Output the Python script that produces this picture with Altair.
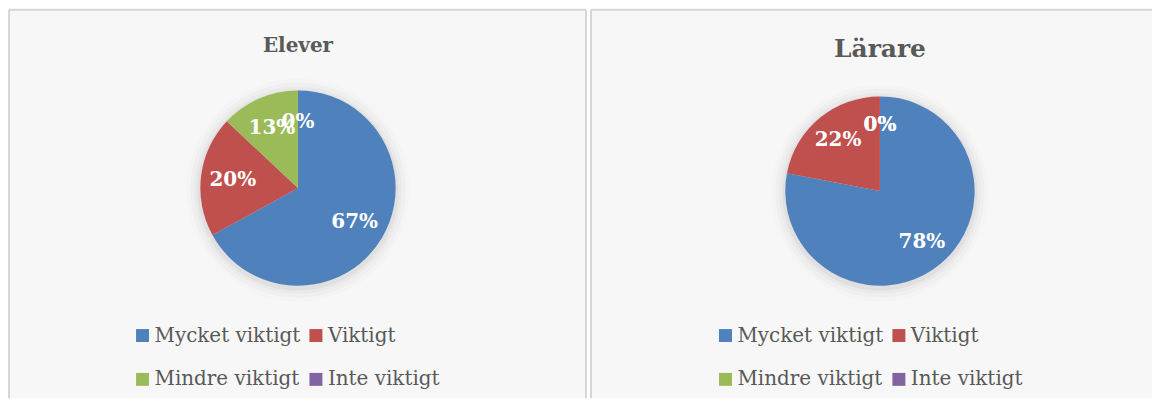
import altair as alt
import pandas as pd

categories = ["Mycket viktigt", "Viktigt", "Mindre viktigt", "Inte viktigt"]
colors = ["#4F81BD", "#C0504D", "#9BBB59", "#8064A2"]
elever_values = [67, 20, 13, 0]
larare_values = [78, 22, 0, 0]
titles = ["Elever", "Lärare"]

SERIF = "DejaVu Serif"
GREY = "#595959"
BORDER = "#d6d6d6"


def make_df(values):
    return pd.DataFrame({
        "kategori": categories,
        "andel": values,
        "ordning": list(range(len(categories))),
        "etikett": [f"{v}%" for v in values],
    })


def panel(title, values, w, h, cx, cy, r, title_size, title_y, legend_x, borders):
    df = make_df(values)
    color = alt.Color(
        "kategori:N",
        scale=alt.Scale(domain=categories, range=colors),
        legend=alt.Legend(
            orient="none", legendX=legend_x, legendY=317, columns=2, direction="horizontal",
            title=None,
            symbolType="square", symbolSize=169, symbolStrokeWidth=0,
            labelFont=SERIF, labelFontSize=20, labelColor=GREY, labelOffset=2,
            labelLimit=300, rowPadding=24, columnPadding=5, padding=0,
        ),
    )
    base = alt.Chart(df).encode(
        theta=alt.Theta("andel:Q", stack=True),
        order=alt.Order("ordning:Q"),
    )
    shadows = [
        base.mark_arc(x=cx, y=cy + 2, outerRadius=r + rr, color="#000000", opacity=op)
        for rr, op in [(14, 0.012), (10, 0.018), (6, 0.025), (3, 0.035)]
    ]
    pie = base.mark_arc(x=cx, y=cy, outerRadius=r).encode(color=color)
    labels = base.mark_text(
        x=cx, y=cy, radius=66, font=SERIF, fontWeight="bold", fontSize=20,
        color="white", align="center", baseline="middle",
    ).encode(text="etikett:N")
    title_df = pd.DataFrame({"t": [title]})
    title_mark = alt.Chart(title_df).mark_text(
        font=SERIF, fontWeight="bold", fontSize=title_size, color=GREY,
        align="center", baseline="middle",
    ).encode(text="t:N", x=alt.value(cx), y=alt.value(title_y))
    border_layers = []
    if "top" in borders:
        border_layers.append(alt.Chart(title_df).mark_rule(color=BORDER, strokeWidth=2).encode(
            x=alt.value(0), x2=alt.value(w), y=alt.value(0)))
    if "left" in borders:
        border_layers.append(alt.Chart(title_df).mark_rule(color=BORDER, strokeWidth=2).encode(
            x=alt.value(0), y=alt.value(0), y2=alt.value(h)))
    if "right" in borders:
        border_layers.append(alt.Chart(title_df).mark_rule(color=BORDER, strokeWidth=2).encode(
            x=alt.value(w), y=alt.value(0), y2=alt.value(h)))
    return alt.layer(*shadows, pie, labels, title_mark, *border_layers).properties(width=w, height=h)


H = 390
left = panel(titles[0], elever_values, 579, H, 290, 179, 98, 20, 36, 124, ["top", "left", "right"])
right = panel(titles[1], larare_values, 563, H, 290, 182, 95, 25, 39, 125, ["top", "left"])

chart = alt.hconcat(left, right, spacing=3).resolve_scale(color="independent").resolve_legend(
    color="independent"
).properties(padding=0).configure_view(fill="#f7f7f7", stroke=None)

chart.save("out.html", embed_options={"renderer": "svg", "actions": False})
